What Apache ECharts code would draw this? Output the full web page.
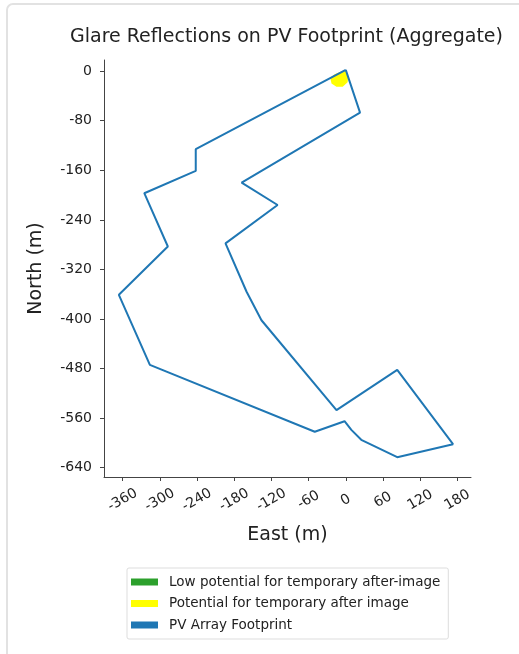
<!DOCTYPE html>
<html>
<head>
<meta charset="utf-8">
<script src="https://cdn.jsdelivr.net/npm/echarts@6/dist/echarts.min.js"></script>
<style>
  html, body { margin: 0; padding: 0; background: #fff; }
  #chart { width: 519px; height: 654px; }
</style>
</head>
<body>
<div id="chart"></div>
<script>
// PV array footprint outline (East, North in metres), closed loop
const footprintEast = [0, 23, -168, -110, -194, -160, -136, -15, 83, 173, 83, 25, 9, -2, -50, -316, -366, -287, -325, -242, -242, 0];
const footprintNorth = [2, -67, -180, -216, -278, -356, -402, -547, -482, -602, -623, -595, -579, -565, -582, -474, -361, -283, -197, -161, -126, 2];

// glare area: potential for temporary after-image
const glareEast = [0, -8, -18, -25, -23, -15, -5, 3, 4];
const glareNorth = [2, -1, -5, -11, -20, -25, -25, -18, -8];

const xTicks = [-360, -300, -240, -180, -120, -60, 0, 60, 120, 180];
const yTicks = [0, -80, -160, -240, -320, -400, -480, -560, -640];

const legendNames = [
  "Low potential for temporary after-image",
  "Potential for temporary after image",
  "PV Array Footprint",
];

const font = "DejaVu Sans";
const chart = echarts.init(document.getElementById("chart"));

chart.setOption({
  animation: false,
  backgroundColor: "#fff",
  graphic: [
    {
      type: "rect",
      shape: { x: 7, y: 4, width: 560, height: 700, r: 6 },
      style: { fill: "none", stroke: "#e2e2e2", lineWidth: 2 },
      z: -10,
    },
  ],
  title: {
    text: "Glare Reflections on PV Footprint (Aggregate)",
    left: 65,
    top: 23,
    textStyle: { fontFamily: font, fontSize: 19, fontWeight: "normal", color: "#222" },
  },
  grid: { left: 104, right: 48, top: 60, bottom: 177 },
  xAxis: {
    type: "value",
    min: -390,
    max: 202,
    name: "East (m)",
    nameLocation: "middle",
    nameGap: 49,
    nameTextStyle: { fontFamily: font, fontSize: 19, color: "#222" },
    axisLine: { show: true, onZero: false, lineStyle: { color: "#444", width: 1 } },
    axisTick: { show: true, length: 4, inside: false, customValues: xTicks, lineStyle: { color: "#444" } },
    axisLabel: {
      customValues: xTicks,
      rotate: 30,
      align: "center",
      verticalAlign: "middle",
      margin: 23,
      fontFamily: font,
      fontSize: 14,
      color: "#222",
    },
    splitLine: { show: false },
  },
  yAxis: {
    type: "value",
    min: -655,
    max: 18,
    name: "North (m)",
    nameLocation: "middle",
    nameGap: 58,
    nameTextStyle: { fontFamily: font, fontSize: 19, color: "#222" },
    axisLine: { show: true, onZero: false, lineStyle: { color: "#444", width: 1 } },
    axisTick: { show: true, length: 4, customValues: yTicks, lineStyle: { color: "#444" } },
    axisLabel: {
      customValues: yTicks,
      margin: 12,
      fontFamily: font,
      fontSize: 14,
      color: "#222",
    },
    splitLine: { show: false },
  },
  legend: {
    data: legendNames,
    orient: "vertical",
    left: 127,
    top: 568,
    icon: "rect",
    itemWidth: 27,
    itemHeight: 7,
    itemGap: 7.5,
    padding: [7, 8, 7, 4],
    borderColor: "#ddd",
    borderWidth: 1,
    borderRadius: 2,
    textStyle: { fontFamily: font, fontSize: 13.5, color: "#222", padding: [0, 0, 0, 6] },
  },
  series: [
    {
      name: legendNames[0],
      type: "custom",
      itemStyle: { color: "#2ca02c" },
      data: [],
      renderItem: () => null,
    },
    {
      name: legendNames[1],
      type: "custom",
      itemStyle: { color: "#ffff00" },
      z: 1,
      data: [0],
      renderItem: (params, api) => ({
        type: "polygon",
        shape: { points: glareEast.map((x, i) => api.coord([x, glareNorth[i]])) },
        style: { fill: "#ffff00" },
      }),
    },
    {
      name: legendNames[2],
      type: "line",
      z: 3,
      showSymbol: false,
      symbol: "none",
      itemStyle: { color: "#1f77b4" },
      lineStyle: { color: "#1f77b4", width: 2 },
      data: footprintEast.map((x, i) => [x, footprintNorth[i]]),
    },
  ],
});
</script>
</body>
</html>
